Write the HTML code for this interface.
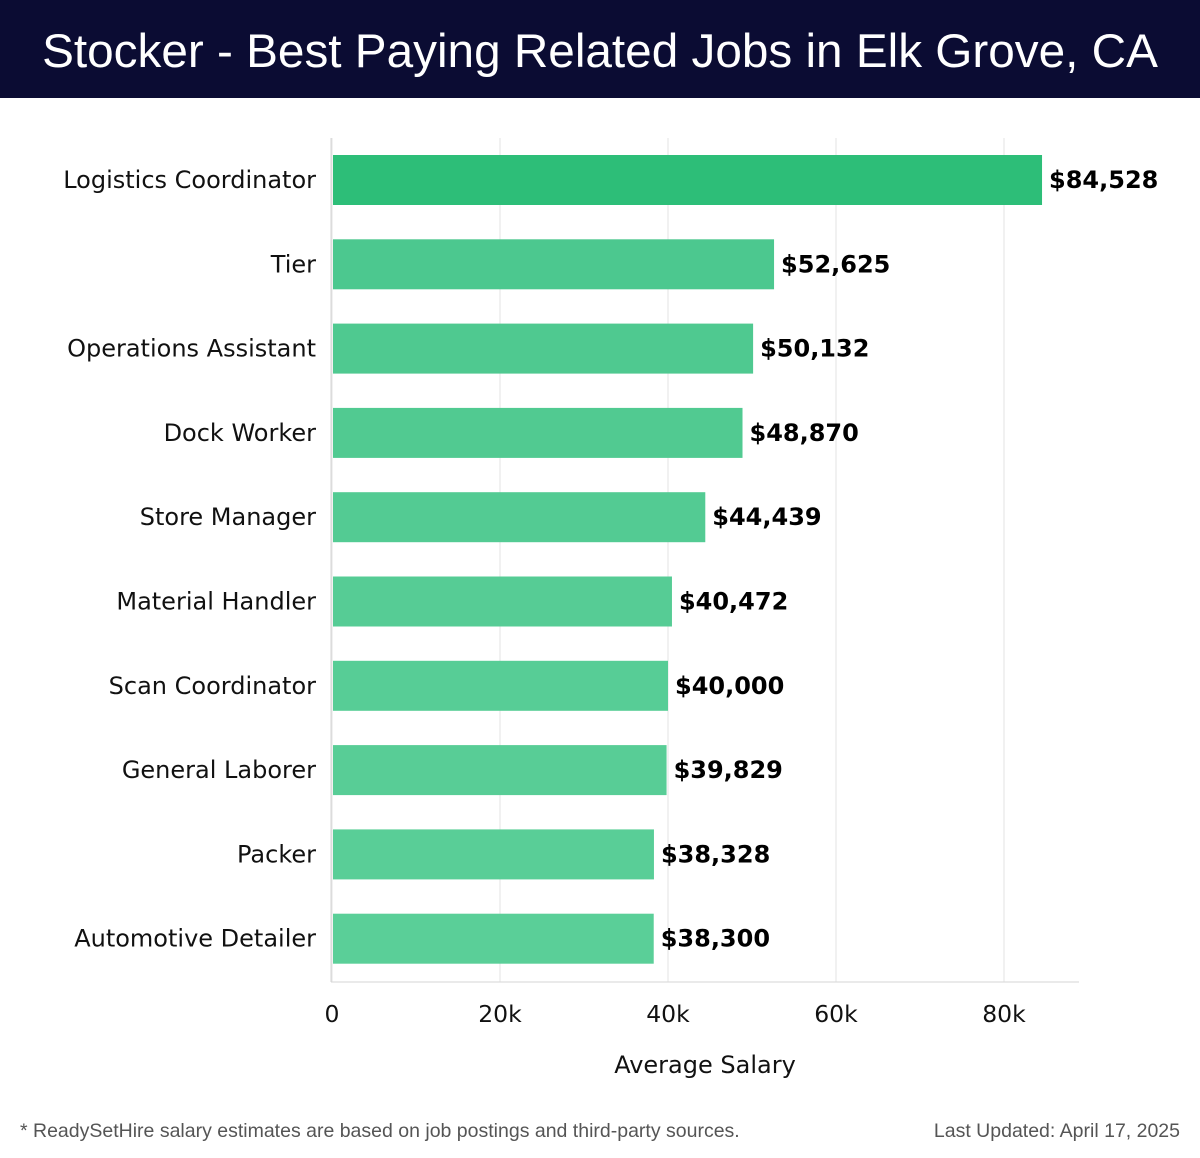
<!DOCTYPE html>
<html><head><meta charset="utf-8"><style>
body{margin:0;width:1200px;height:1158px;background:#fff;font-family:"Liberation Sans",sans-serif;overflow:hidden}
#hdr{position:absolute;left:0;top:0;width:1200px;height:98px;background:#0b0c33;color:#fff;font-size:47.7px;line-height:104px;text-align:center}
svg{position:absolute;left:0;top:0}
</style></head><body>
<div id="hdr">Stocker - Best Paying Related Jobs in Elk Grove, CA</div>
<svg id="c" width="1200" height="1158"></svg>
<script>
const categories=["Logistics Coordinator","Tier","Operations Assistant","Dock Worker","Store Manager","Material Handler","Scan Coordinator","General Laborer","Packer","Automotive Detailer"];
const values=[84528,52625,50132,48870,44439,40472,40000,39829,38328,38300];
const ticks=[0,20000,40000,60000,80000];
const tickLabels=["0","20k","40k","60k","80k"];
const colors=["#2dbe78","#4cc88f","#4fc990","#51ca91","#53cb93","#56cc95","#57cd96","#58cd96","#59ce97","#5acf98"];
const ns="http://www.w3.org/2000/svg",svg=document.getElementById('c');
const F='"DejaVu Sans",sans-serif';
const x=v=>332+v*168/20000;
const yTop=i=>155+i*84.3;
function mk(t,a,txt){const e=document.createElementNS(ns,t);for(const k in a)e.setAttribute(k,a[k]);if(txt!=null)e.textContent=txt;svg.appendChild(e);return e;}
ticks.forEach((t,i)=>{
 const g=mk('line',{x1:x(t),x2:x(t),y1:138,y2:982,stroke:'#e3e3e3','stroke-width':1});
 
 
 const l=mk('text',{x:x(t),y:1022,'text-anchor':'middle','font-size':23.5,fill:'#111','font-family':F},tickLabels[i]);
 
 
});
const ax=mk('line',{x1:331,x2:1079,y1:982,y2:982,stroke:'#d6d6d6','stroke-width':1});


const ay=mk('line',{x1:331,x2:331,y1:138,y2:982,stroke:'#d6d6d6','stroke-width':1});


categories.forEach((c,i)=>{
 const y=yTop(i);
 const b=mk('rect',{x:x(0)+1,y:y,width:x(values[i])-x(0)-1,height:50,fill:colors[i]});
 
 
 const l=mk('text',{x:316,y:y+33,'text-anchor':'end','font-size':24,fill:'#111','font-family':F},c);
 
 
 const v=mk('text',{x:x(values[i])+7,y:y+33,'font-size':24,'font-weight':'bold',fill:'#000','font-family':F},'$'+values[i].toLocaleString('en-US'));
 
 
});
const xt=mk('text',{x:705,y:1073,'text-anchor':'middle','font-size':24,fill:'#111','font-family':F},'Average Salary');


const f1=mk('text',{x:20,y:1137,'font-size':19.5,fill:'#555'},'* ReadySetHire salary estimates are based on job postings and third-party sources.');


const f2=mk('text',{x:1180,y:1137,'text-anchor':'end','font-size':19.5,fill:'#555'},'Last Updated: April 17, 2025');


</script>
</body></html>
